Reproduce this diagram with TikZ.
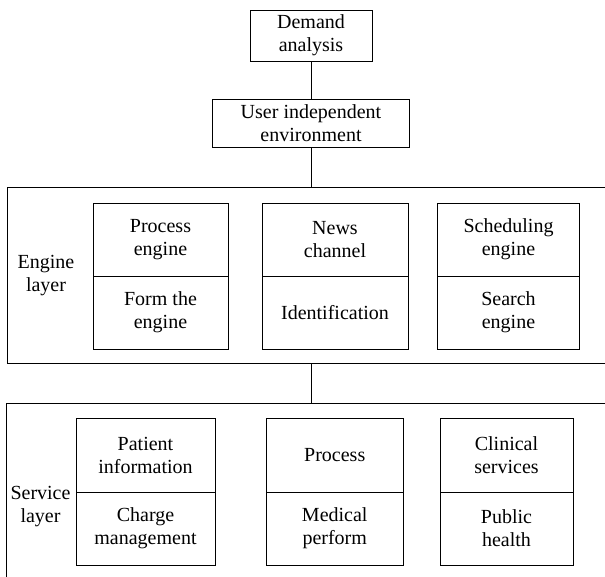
\documentclass[tikz,border=0pt]{standalone}
\usepackage{fontspec}
\setmainfont{Liberation Serif}
\begin{document}
\begin{tikzpicture}[x=1pt,y=-1pt,line width=0.8pt,
  box/.style={draw,rectangle,align=center,inner sep=0pt,font=\fontsize{20}{23}\selectfont},
  lbl/.style={align=center,inner sep=0pt,font=\fontsize{20}{23}\selectfont},
  outer/.style={draw,rectangle,inner sep=0pt,anchor=north west}]
\useasboundingbox (0,0) rectangle (605,576);
% top chain
\node[box,minimum width=122pt,minimum height=51pt] (demand) at (311,35.5) {Demand\\analysis};
\node[box,minimum width=197pt,minimum height=48pt] (user) at (311,123) {User independent\\environment};
% outer layers
\node[outer,minimum width=620pt,minimum height=176pt] (engine) at (7,187) {};
\node[outer,minimum width=620pt,minimum height=200pt] (service) at (6,403) {};
% connectors
\draw (demand.south) -- (user.north);
\draw (user.south) -- (user.south |- engine.north);
\draw (user.south |- engine.south) -- (user.south |- service.north);
% engine layer
\node[lbl] (englbl) at (46,276) {Engine\\layer};
\node[box,minimum width=135pt,minimum height=73pt] (e1a) at (160.5,239.5) {Process\\engine};
\node[box,minimum width=135pt,minimum height=73pt] (e1b) at (160.5,312.5) {Form the\\engine};
\node[box,minimum width=146pt,minimum height=73pt] (e2a) at (335,239.5) {News\\channel};
\node[box,minimum width=146pt,minimum height=73pt] (e2b) at (335,312.5) {Identification};
\node[box,minimum width=142pt,minimum height=73pt] (e3a) at (508.5,239.5) {Scheduling\\engine};
\node[box,minimum width=142pt,minimum height=73pt] (e3b) at (508.5,312.5) {Search\\engine};
% service layer
\node[lbl] (svclbl) at (40.5,507) {Service\\layer};
\node[box,minimum width=139pt,minimum height=74pt] (s1a) at (145.5,455) {Patient\\information};
\node[box,minimum width=139pt,minimum height=73pt] (s1b) at (145.5,528.5) {Charge\\management};
\node[box,minimum width=137.5pt,minimum height=74pt] (s2a) at (334.75,455) {Process};
\node[box,minimum width=137.5pt,minimum height=73pt] (s2b) at (334.75,528.5) {Medical\\perform};
\node[box,minimum width=133pt,minimum height=74pt] (s3a) at (506.5,455) {Clinical\\services};
\node[box,minimum width=133pt,minimum height=73pt] (s3b) at (506.5,528.5) {Public\\health};
\end{tikzpicture}
\end{document}
